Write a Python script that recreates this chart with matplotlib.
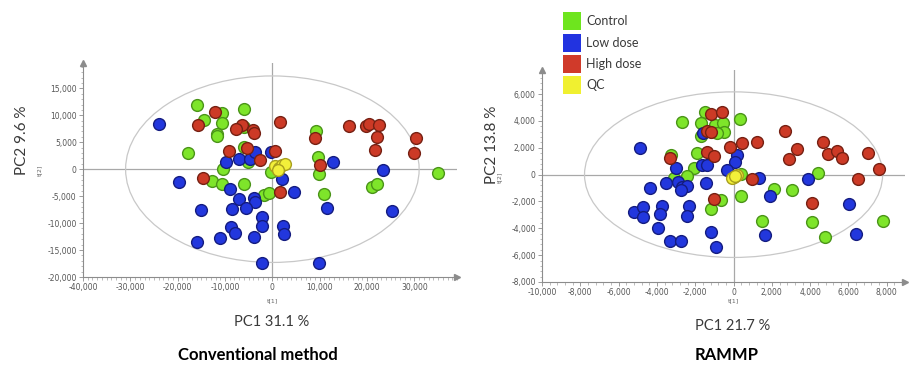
import matplotlib
matplotlib.use("Agg")
import matplotlib.pyplot as plt
from matplotlib.patches import Ellipse, Rectangle
from matplotlib.ticker import MultipleLocator, AutoMinorLocator, FuncFormatter

# ---- data: conventional method (t[1], t[2]) ----
conv_control_x = [-16000, -14460, -10590, -10740, -11790, -11790, -6040, -6040, -17830, -6040,
                  -5200, -10460, -12690, -10740, -6040, -1680, -780, -210, 9200, 9540,
                  9890, 10950, 20990, 22170, 35010]
conv_control_y = [11850, 9070, 10430, 8580, 6610, 6170, 11240, 7830, 3020, 4130,
                  1350, 0, -2220, -2780, -2830, -4820, -4390, -500, 7040, 2280,
                  -800, -4630, -3280, -2780, -690]
conv_low_x = [-23860, -19720, -9750, -7090, -4630, -3580, -270, 2040, 4490, -8990,
              -7090, -3930, -3580, -5620, -8630, -15160, -2170, -2170, -8840, -7790,
              -3930, -11090, -15990, 2250, 2530, -2170, 12910, 23440, 25190, 11510, 9750]
conv_low_y = [8460, -2350, 1350, 1800, 1800, 3210, 3210, -1910, -4260, -3650,
              -5500, -5430, -6060, -7170, -7350, -7600, -8830, -10560, -10680, -11800,
              -12540, -12830, -13520, -10560, -12040, -17460, 1300, -60, -7720, -7280, -17460]
conv_high_x = [-12210, -15720, -6380, -7640, -4060, -3790, 1540, -9200, -5330, -2530,
               630, -14670, 1680, 8900, 10100, 16270, 19720, 20480, 22590, 22040,
               21680, 30310, 29950]
conv_high_y = [10610, 8150, 8150, 7410, 7350, 6800, 8700, 3330, 4020, 1670,
               3330, -1610, -4260, 5800, 690, 7960, 7960, 8460, 8280, 5980,
               3520, 5870, 3090]
conv_qc_x = [630, 1330, 2040, 2740, 1120]
conv_qc_y = [560, 310, 740, 930, -60]

# ---- data: RAMMP ----
ramp_control_x = [-1510, 360, -1710, -990, -540, -500, -880, -1710, -2700, -3270,
                  -1920, -2060, -2440, -3100, 400, 4430, 2090, 3050, 400, -680,
                  -1160, 1490, 4120, 4780, 7780]
ramp_control_y = [4680, 4120, 3820, 3700, 3870, 3200, 3080, 2900, 3900, 1460,
                  1590, 480, -100, -270, 30, 150, -1090, -1140, -1580, -1880,
                  -2570, -3420, -3540, -4610, -3440]
ramp_low_x = [-4880, -3010, -1630, -1400, 190, 100, -330, -4350, -3530, -2920,
              -2670, -2440, -2750, -1450, -5210, -4740, -4740, -3760, -3830, -2320,
              -2440, -3930, -3310, -2750, -1160, -940, 1310, 1920, 1660, 3880,
              6040, 6390, -1570]
ramp_low_y = [1960, 520, 720, 720, 1460, 940, 350, -970, -640, -520,
              -890, -840, -1140, -640, -2750, -2420, -3170, -2330, -2920, -2330,
              -3070, -3990, -4980, -4930, -4310, -5400, -270, -1580, -4480, -320,
              -2200, -4410, 3080]
ramp_high_x = [-1160, -590, -1400, -1160, 2700, -160, 450, 1230, -1400, -1020,
               3310, 2910, 4690, 4950, 5420, 5650, 7000, 7580, 6480, 970,
               4090, -1020, -3310]
ramp_high_y = [4490, 4680, 3270, 3200, 3270, 2080, 2380, 2410, 1710, 1390,
               1890, 1170, 2410, 1540, 1760, 1260, 1640, 450, -320, -340,
               -2080, -1830, 1220]
ramp_qc_x = [20, 160, -70, 100]
ramp_qc_y = [-150, -20, -270, -100]

groups = ["Control", "Low dose", "High dose", "QC"]
face = {"Control": "#7ee52a", "Low dose": "#2237dd", "High dose": "#cc3a26", "QC": "#f2f03a"}
edge = {"Control": "#4a9418", "Low dose": "#141c80", "High dose": "#762012", "QC": "#a89f1e"}
legend_face = {"Control": "#6ee51e", "Low dose": "#2233e0", "High dose": "#d03a2a", "QC": "#f0f030"}

W, H = 909, 367
fig = plt.figure(figsize=(W / 100, H / 100), dpi=100)
fig.patch.set_facecolor("white")


def fx(px):
    return px / W


def fy(py):
    return 1 - py / H


def comma(v, pos):
    return "{:,.0f}".format(v)


def panel(rect, data, xlim, ylim, xmaj, ymaj, xminor, yminor, ell):
    ax = fig.add_axes(rect)
    ax.set_xlim(*xlim)
    ax.set_ylim(*ylim)
    for s in ["top", "right"]:
        ax.spines[s].set_visible(False)
    for s in ["left", "bottom"]:
        ax.spines[s].set_color("#8c8c8c")
        ax.spines[s].set_linewidth(0.8)
    ax.plot([1], [0], marker=">", color="#8c8c8c", markersize=5, transform=ax.transAxes, clip_on=False)
    ax.plot([0], [1], marker="^", color="#8c8c8c", markersize=5, transform=ax.transAxes, clip_on=False)
    ax.axhline(0, color="#a8a8a8", lw=0.9, zorder=1)
    ax.axvline(0, color="#a8a8a8", lw=0.9, zorder=1)
    ax.add_patch(Ellipse((0, 0), 2 * ell[0], 2 * ell[1], fill=False, edgecolor="#c8c8c8", lw=0.9, zorder=1))
    ax.xaxis.set_major_locator(MultipleLocator(xmaj))
    ax.yaxis.set_major_locator(MultipleLocator(ymaj))
    ax.xaxis.set_minor_locator(AutoMinorLocator(xminor))
    ax.yaxis.set_minor_locator(AutoMinorLocator(yminor))
    ax.xaxis.set_major_formatter(FuncFormatter(comma))
    ax.yaxis.set_major_formatter(FuncFormatter(comma))
    ax.tick_params(which="major", length=3, width=0.6, color="#8c8c8c", labelsize=5.5,
                   labelcolor="#555555", pad=1.5)
    ax.tick_params(which="minor", length=1.8, width=0.5, color="#a0a0a0")
    for g in groups:
        xs, ys = data[g]
        ax.scatter(xs, ys, s=72, c=face[g], edgecolors=edge[g], linewidths=1.0, zorder=3)
    return ax


conv = {"Control": (conv_control_x, conv_control_y), "Low dose": (conv_low_x, conv_low_y),
        "High dose": (conv_high_x, conv_high_y), "QC": (conv_qc_x, conv_qc_y)}
ramp = {"Control": (ramp_control_x, ramp_control_y), "Low dose": (ramp_low_x, ramp_low_y),
        "High dose": (ramp_high_x, ramp_high_y), "QC": (ramp_qc_x, ramp_qc_y)}

ax1 = panel([fx(83), fy(277), fx(457) - fx(83), fy(63) - fy(277)], conv,
            (-40000, 39000), (-20000, 19700), 10000, 5000, 10, 5, (31000, 17300))
ax1.set_xticks([-40000, -30000, -20000, -10000, 0, 10000, 20000, 30000])
ax1.set_yticks([-20000, -15000, -10000, -5000, 0, 5000, 10000, 15000])

ax2 = panel([fx(542), fy(282), fx(905) - fx(542), fy(70) - fy(282)], ramp,
            (-10000, 8950), (-8000, 7800), 2000, 2000, 5, 5, (7780, 6170))
ax2.set_xticks(list(range(-10000, 8001, 2000)))
ax2.set_yticks(list(range(-8000, 6001, 2000)))

title_font = ["Lato", "DejaVu Sans"]
gray = "#3a3a3a"

# axis titles, left panel
fig.text(fx(22), fy(140), "PC2 9.6 %", rotation=90, ha="center", va="center",
         fontsize=11, color=gray, family=title_font)
fig.text(fx(40), fy(170), "t[2]", rotation=90, ha="center", va="center", fontsize=4.5, color="#666666")
fig.text(fx(272), fy(301), "t[1]", ha="center", va="center", fontsize=4.5, color="#666666")
fig.text(fx(272), fy(322), "PC1 31.1 %", ha="center", va="center", fontsize=10.5, color=gray, family=title_font)
fig.text(fx(258), fy(355), "Conventional method", ha="center", va="center", fontsize=12,
         fontweight="bold", color="black", family=title_font)

# axis titles, right panel
fig.text(fx(492), fy(145), "PC2 13.8 %", rotation=90, ha="center", va="center",
         fontsize=11, color=gray, family=title_font)
fig.text(fx(500), fy(177), "t[2]", rotation=90, ha="center", va="center", fontsize=4.5, color="#666666")
fig.text(fx(733), fy(301), "t[1]", ha="center", va="center", fontsize=4.5, color="#666666")
fig.text(fx(733), fy(326), "PC1 21.7 %", ha="center", va="center", fontsize=10.5, color=gray, family=title_font)
fig.text(fx(727), fy(355), "RAMMP", ha="center", va="center", fontsize=12,
         fontweight="bold", color="black", family=title_font)

# legend (drawn by hand like the original software)
leg_y = [21, 43, 64, 85]
for g, yc in zip(groups, leg_y):
    fig.patches.append(Rectangle((fx(563), fy(yc + 9)), fx(18), 18 / H, transform=fig.transFigure,
                                 facecolor=legend_face[g], edgecolor="none"))
    fig.text(fx(586), fy(yc), g, ha="left", va="center", fontsize=9, color=gray, family=title_font)

fig.savefig("out.png", dpi=100)
